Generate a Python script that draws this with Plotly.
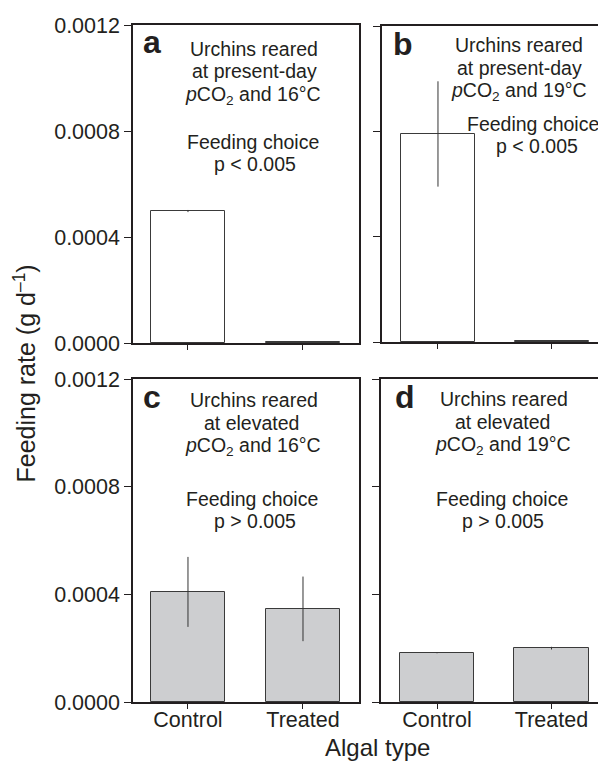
import plotly.graph_objects as go

# ---------------- data ----------------
categories = ["Control", "Treated"]
panel_letters = ["a", "b", "c", "d"]

rate_a = [0.000498, 0.000002]
err_a = [0.000004, 0.0]
rate_b = [0.000790, 0.000002]
err_b = [0.000200, 0.0]
rate_c = [0.000409, 0.000346]
err_c = [0.000130, 0.000120]
rate_d = [0.000182, 0.000200]
err_d = [0.000001, 0.000005]

y_ticks = [0.0, 0.0004, 0.0008, 0.0012]

text_a = ["Urchins reared", "at present-day", "<i>p</i>CO<sub>2</sub> and 16°C",
          "Feeding choice", "p &lt; 0.005"]
text_b = ["Urchins reared", "at present-day", "<i>p</i>CO<sub>2</sub> and 19°C",
          "Feeding choice", "p &lt; 0.005"]
text_c = ["Urchins reared", "at elevated", "<i>p</i>CO<sub>2</sub> and 16°C",
          "Feeding choice", "p &gt; 0.005"]
text_d = ["Urchins reared", "at elevated", "<i>p</i>CO<sub>2</sub> and 19°C",
          "Feeding choice", "p &gt; 0.005"]

# ---------------- layout helpers ----------------
W, H = 598, 765
FONT = "Liberation Sans, Arial, Helvetica, sans-serif"
DARK = "#231f20"
GREY = "#cdced0"


def px(x):
    return x / W


def py(y):
    return 1 - y / H


fig = go.Figure()

panels = [
    (rate_a, err_a, "white", "x", "y"),
    (rate_b, err_b, "white", "x2", "y2"),
    (rate_c, err_c, GREY, "x3", "y3"),
    (rate_d, err_d, GREY, "x4", "y4"),
]

for vals, errs, fill, xa, ya in panels:
    fig.add_trace(go.Bar(
        x=categories, y=vals, xaxis=xa, yaxis=ya, width=0.65,
        marker=dict(color=fill, line=dict(color="#3a3a3a", width=1)),
        error_y=dict(type="data", array=errs, visible=True, thickness=1,
                     width=0, color="#333333"),
        showlegend=False, hoverinfo="skip",
    ))

dom = {
    "a": ((133, 359), (25, 343), (-0.478, 1.487)),
    "b": ((382, 598), (26, 342), (-0.491, 1.404)),
    "c": ((133, 359), (379, 702), (-0.478, 1.487)),
    "d": ((381, 598), (379, 702), (-0.489, 1.406)),
}

axis_common = dict(showline=True, linecolor=DARK, linewidth=1.5,
                   ticks="outside", tickcolor=DARK, tickwidth=1.2,
                   showgrid=False, zeroline=False,
                   tickfont=dict(family=FONT, size=21.5, color=DARK))

layout = dict(
    width=W, height=H, margin=dict(l=0, r=0, t=0, b=0, autoexpand=False),
    plot_bgcolor="white", paper_bgcolor="white",
    font=dict(family=FONT, color=DARK), bargap=0,
)

names = ["", "2", "3", "4"]
for i, key in enumerate(panel_letters):
    (x0, x1), (y0, y1), xr = dom[key]
    full = key in ("a", "c")
    bottom = key in ("c", "d")
    left = key in ("a", "c")
    layout["xaxis" + names[i]] = dict(
        axis_common, domain=[px(x0), px(x1)], anchor="y" + names[i],
        type="category", categoryorder="array", categoryarray=categories,
        range=list(xr), mirror=True, ticklen=5, ticklabelstandoff=-8,
        showticklabels=bottom, fixedrange=True,
    )
    layout["yaxis" + names[i]] = dict(
        axis_common, domain=[py(y1), py(y0)], anchor="x" + names[i],
        range=[0, 0.0012], tickvals=y_ticks, tickformat=".4f", ticklen=7,
        mirror=full, showticklabels=left, fixedrange=True,
    )

fig.update_layout(**layout)

annotations = []

letter_pos = {"a": (141, 41.5), "b": (391, 44), "c": (141, 396.5), "d": (393, 396.5)}
for key in panel_letters:
    lx, ly = letter_pos[key]
    annotations.append(dict(
        text="<b>%s</b>" % key, x=px(lx), y=py(ly), xref="paper", yref="paper",
        xanchor="left", yanchor="middle", showarrow=False,
        font=dict(family=FONT, size=32, color=DARK)))

line_pos = {
    "a": ([254, 254, 253, 253, 255], [48.5, 71, 93.5, 141.5, 163.5]),
    "b": ([519, 519, 519, 533, 537], [45, 67.5, 90, 124, 146]),
    "c": ([254, 251, 253, 252, 255], [400, 422.5, 445, 499, 521]),
    "d": ([504, 502, 503, 502, 503], [399, 421.5, 444, 499, 521]),
}
texts = {"a": text_a, "b": text_b, "c": text_c, "d": text_d}
for key in panel_letters:
    xs, ys = line_pos[key]
    for j, line in enumerate(texts[key]):
        yy = ys[j] + (1.5 if "<sub>" in line else 0)
        annotations.append(dict(
            text=line, x=px(xs[j]), y=py(yy), xref="paper", yref="paper",
            xanchor="center", yanchor="middle", showarrow=False,
            font=dict(family=FONT, size=19.5, color=DARK)))

annotations.append(dict(
    text="Feeding rate (g d<sup>–1</sup>)", x=px(24), y=py(373.5),
    xref="paper", yref="paper", textangle=-90, showarrow=False,
    xanchor="center", yanchor="middle",
    font=dict(family=FONT, size=25, color=DARK)))
annotations.append(dict(
    text="Algal type", x=px(377), y=py(763), xref="paper", yref="paper",
    showarrow=False, xanchor="center", yanchor="bottom",
    font=dict(family=FONT, size=24, color=DARK)))

fig.update_layout(annotations=annotations)

fig.write_html("out.html")
